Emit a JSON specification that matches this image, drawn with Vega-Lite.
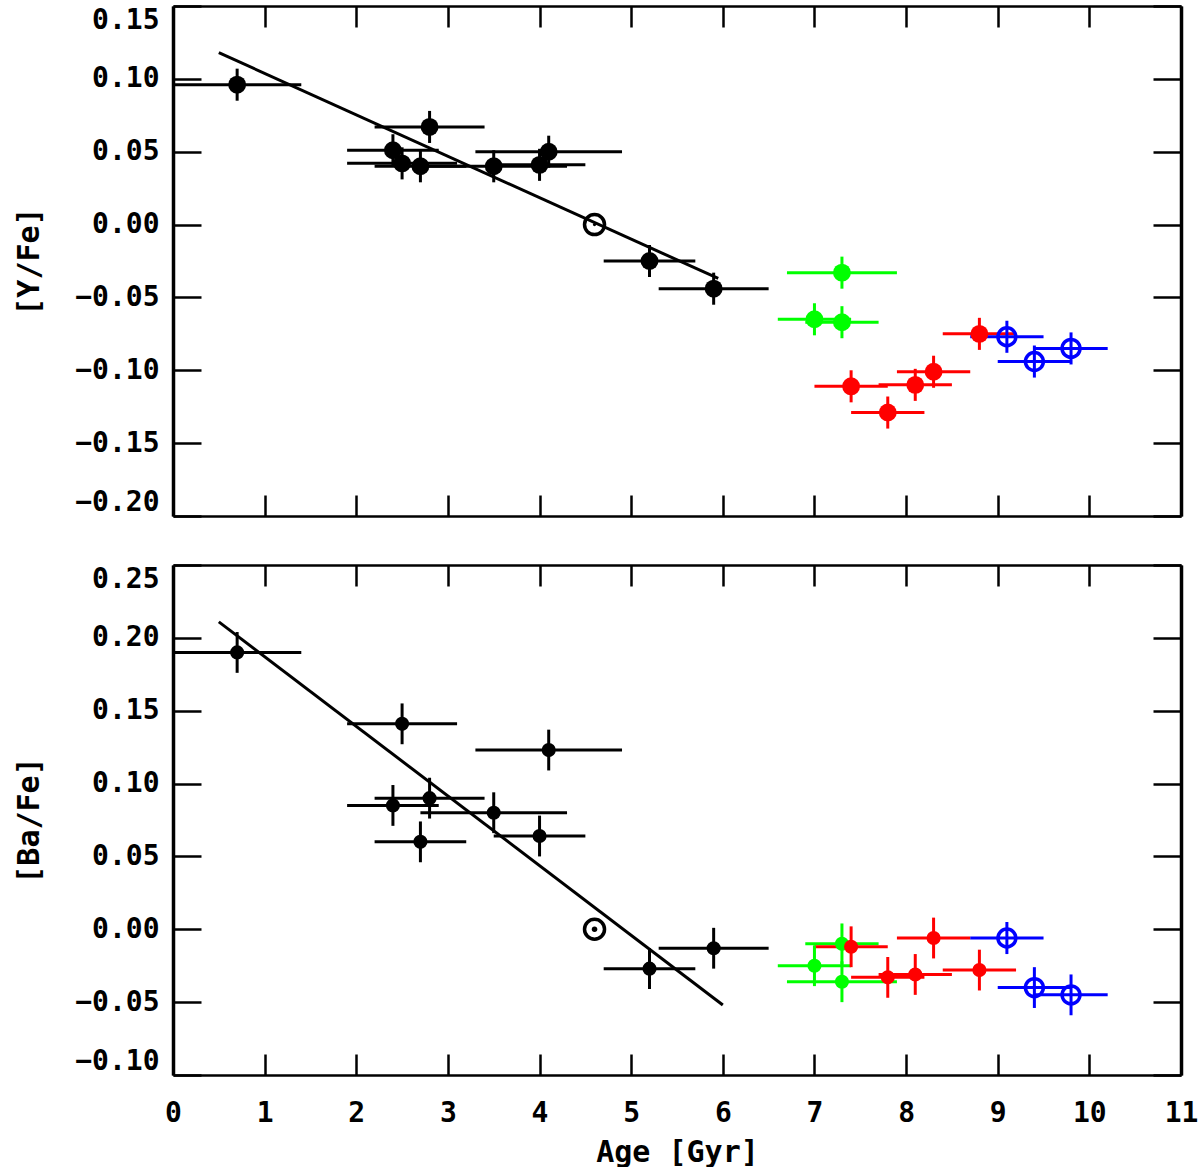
{
  "$schema": "https://vega.github.io/schema/vega-lite/v6.json",
  "background": "white",
  "padding": {"left": 14, "top": 4, "right": 5, "bottom": 0},
  "autosize": {"type": "pad"},
  "config": {
    "view": {"stroke": null},
    "font": "DejaVu Sans Mono",
    "axis": {
      "grid": false,
      "domainColor": "black",
      "tickColor": "black",
      "labelColor": "black",
      "titleColor": "black",
      "labelFont": "DejaVu Sans Mono",
      "labelFontWeight": "bold",
      "labelFontSize": 28,
      "titleFont": "DejaVu Sans Mono",
      "titleFontWeight": "bold",
      "titleFontSize": 30,
      "domainWidth": 3,
      "tickWidth": 2.5
    }
  },
  "datasets": {
    "yfe": [
      {"age": 0.7, "lo": 0.0, "hi": 1.4, "val": 0.096, "vlo": 0.085, "vhi": 0.107, "group": "A"},
      {"age": 2.4, "lo": 1.9, "hi": 2.9, "val": 0.051, "vlo": 0.040, "vhi": 0.062, "group": "A"},
      {"age": 2.5, "lo": 1.9, "hi": 3.1, "val": 0.042, "vlo": 0.031, "vhi": 0.053, "group": "A"},
      {"age": 2.7, "lo": 2.2, "hi": 3.2, "val": 0.040, "vlo": 0.029, "vhi": 0.051, "group": "A"},
      {"age": 2.8, "lo": 2.2, "hi": 3.4, "val": 0.067, "vlo": 0.056, "vhi": 0.078, "group": "A"},
      {"age": 3.5, "lo": 2.7, "hi": 4.3, "val": 0.040, "vlo": 0.029, "vhi": 0.051, "group": "A"},
      {"age": 4.0, "lo": 3.5, "hi": 4.5, "val": 0.041, "vlo": 0.030, "vhi": 0.052, "group": "A"},
      {"age": 4.1, "lo": 3.3, "hi": 4.9, "val": 0.050, "vlo": 0.039, "vhi": 0.061, "group": "A"},
      {"age": 5.2, "lo": 4.7, "hi": 5.7, "val": -0.025, "vlo": -0.036, "vhi": -0.014, "group": "A"},
      {"age": 5.9, "lo": 5.3, "hi": 6.5, "val": -0.044, "vlo": -0.055, "vhi": -0.033, "group": "A"},
      {"age": 7.3, "lo": 6.7, "hi": 7.9, "val": -0.033, "vlo": -0.044, "vhi": -0.022, "group": "B"},
      {"age": 7.0, "lo": 6.6, "hi": 7.4, "val": -0.065, "vlo": -0.076, "vhi": -0.054, "group": "B"},
      {"age": 7.3, "lo": 6.9, "hi": 7.7, "val": -0.067, "vlo": -0.078, "vhi": -0.056, "group": "B"},
      {"age": 7.4, "lo": 7.0, "hi": 7.8, "val": -0.111, "vlo": -0.122, "vhi": -0.100, "group": "C"},
      {"age": 7.8, "lo": 7.4, "hi": 8.2, "val": -0.129, "vlo": -0.140, "vhi": -0.118, "group": "C"},
      {"age": 8.1, "lo": 7.7, "hi": 8.5, "val": -0.110, "vlo": -0.121, "vhi": -0.099, "group": "C"},
      {"age": 8.3, "lo": 7.9, "hi": 8.7, "val": -0.101, "vlo": -0.112, "vhi": -0.090, "group": "C"},
      {"age": 8.8, "lo": 8.4, "hi": 9.2, "val": -0.075, "vlo": -0.086, "vhi": -0.064, "group": "C"},
      {"age": 9.1, "lo": 8.7, "hi": 9.5, "val": -0.077, "vlo": -0.088, "vhi": -0.066, "group": "D"},
      {"age": 9.4, "lo": 9.0, "hi": 9.8, "val": -0.094, "vlo": -0.105, "vhi": -0.083, "group": "D"},
      {"age": 9.8, "lo": 9.4, "hi": 10.2, "val": -0.085, "vlo": -0.096, "vhi": -0.074, "group": "D"}
    ],
    "bafe": [
      {"age": 0.7, "lo": 0.0, "hi": 1.4, "val": 0.190, "vlo": 0.176, "vhi": 0.204, "group": "A"},
      {"age": 2.4, "lo": 1.9, "hi": 2.9, "val": 0.085, "vlo": 0.071, "vhi": 0.099, "group": "A"},
      {"age": 2.5, "lo": 1.9, "hi": 3.1, "val": 0.141, "vlo": 0.127, "vhi": 0.155, "group": "A"},
      {"age": 2.7, "lo": 2.2, "hi": 3.2, "val": 0.060, "vlo": 0.046, "vhi": 0.074, "group": "A"},
      {"age": 2.8, "lo": 2.2, "hi": 3.4, "val": 0.090, "vlo": 0.076, "vhi": 0.104, "group": "A"},
      {"age": 3.5, "lo": 2.7, "hi": 4.3, "val": 0.080, "vlo": 0.066, "vhi": 0.094, "group": "A"},
      {"age": 4.0, "lo": 3.5, "hi": 4.5, "val": 0.064, "vlo": 0.050, "vhi": 0.078, "group": "A"},
      {"age": 4.1, "lo": 3.3, "hi": 4.9, "val": 0.123, "vlo": 0.109, "vhi": 0.137, "group": "A"},
      {"age": 5.2, "lo": 4.7, "hi": 5.7, "val": -0.027, "vlo": -0.041, "vhi": -0.013, "group": "A"},
      {"age": 5.9, "lo": 5.3, "hi": 6.5, "val": -0.013, "vlo": -0.027, "vhi": 0.001, "group": "A"},
      {"age": 7.3, "lo": 6.7, "hi": 7.9, "val": -0.036, "vlo": -0.050, "vhi": -0.022, "group": "B"},
      {"age": 7.0, "lo": 6.6, "hi": 7.4, "val": -0.025, "vlo": -0.039, "vhi": -0.011, "group": "B"},
      {"age": 7.3, "lo": 6.9, "hi": 7.7, "val": -0.010, "vlo": -0.024, "vhi": 0.004, "group": "B"},
      {"age": 7.4, "lo": 7.0, "hi": 7.8, "val": -0.012, "vlo": -0.026, "vhi": 0.002, "group": "C"},
      {"age": 7.8, "lo": 7.4, "hi": 8.2, "val": -0.033, "vlo": -0.047, "vhi": -0.019, "group": "C"},
      {"age": 8.1, "lo": 7.7, "hi": 8.5, "val": -0.031, "vlo": -0.045, "vhi": -0.017, "group": "C"},
      {"age": 8.3, "lo": 7.9, "hi": 8.7, "val": -0.006, "vlo": -0.020, "vhi": 0.008, "group": "C"},
      {"age": 8.8, "lo": 8.4, "hi": 9.2, "val": -0.028, "vlo": -0.042, "vhi": -0.014, "group": "C"},
      {"age": 9.1, "lo": 8.7, "hi": 9.5, "val": -0.006, "vlo": -0.017, "vhi": 0.005, "group": "D"},
      {"age": 9.4, "lo": 9.0, "hi": 9.8, "val": -0.040, "vlo": -0.054, "vhi": -0.026, "group": "D"},
      {"age": 9.8, "lo": 9.4, "hi": 10.2, "val": -0.045, "vlo": -0.059, "vhi": -0.031, "group": "D"}
    ],
    "fitY": [
      {"age": 0.5, "val": 0.118},
      {"age": 5.95, "val": -0.037}
    ],
    "fitBa": [
      {"age": 0.5, "val": 0.211},
      {"age": 6.0, "val": -0.052}
    ],
    "sun": [
      {"age": 4.6, "val": 0.0}
    ]
  },
  "spacing": 45,
  "resolve": {"scale": {"x": "independent", "y": "independent", "color": "independent"}},
  "vconcat": [
    {
      "width": 1008,
      "height": 510,
      "resolve": {"axis": {"x": "independent", "y": "independent"}},
      "layer": [
        {
          "data": {"name": "fitY"},
          "mark": {"type": "line", "color": "black", "strokeWidth": 3},
          "encoding": {
            "x": {"field": "age", "type": "quantitative", "scale": {"domain": [0, 11], "nice": false, "zero": false},
              "axis": {"orient": "top", "labels": false, "labelFlush": false, "tickSize": -21, "values": [0,1,2,3,4,5,6,7,8,9,10,11], "title": null, "domainWidth": 2.5}},
            "y": {"field": "val", "type": "quantitative", "scale": {"domain": [-0.2, 0.15], "nice": false, "zero": false},
              "axis": {"orient": "right", "labels": false, "tickSize": -28, "values": [-0.2,-0.15,-0.1,-0.05,0,0.05,0.1,0.15], "title": null, "domainWidth": 3.5}}
          }
        },
        {
          "data": {"name": "yfe"},
          "mark": {"type": "rule", "strokeWidth": 3},
          "encoding": {
            "x": {"field": "lo", "type": "quantitative",
              "axis": {"orient": "bottom", "labels": false, "labelFlush": false, "tickSize": -21, "values": [0,1,2,3,4,5,6,7,8,9,10,11], "title": null, "domainWidth": 2.5}},
            "x2": {"field": "hi"},
            "y": {"field": "val", "type": "quantitative",
              "axis": {"orient": "left", "title": "[Y/Fe]", "format": ".2f", "values": [-0.2,-0.15,-0.1,-0.05,0,0.05,0.1,0.15], "labelFlush": true, "tickSize": -28, "labelPadding": 42, "titlePadding": 30, "domainWidth": 3.5}},
            "color": {"field": "group", "type": "nominal", "scale": {"domain": ["A","B","C","D"], "range": ["#000000","#00ff00","#ff0000","#0000ff"]}, "legend": null}
          }
        },
        {
          "data": {"name": "yfe"},
          "mark": {"type": "rule", "strokeWidth": 3},
          "encoding": {
            "x": {"field": "age", "type": "quantitative", "axis": null},
            "y": {"field": "vlo", "type": "quantitative", "axis": null},
            "y2": {"field": "vhi"},
            "color": {"field": "group", "type": "nominal", "legend": null}
          }
        },
        {
          "data": {"name": "yfe"},
          "transform": [{"filter": "datum.group != 'D'"}],
          "mark": {"type": "point", "filled": true, "opacity": 1, "size": 320, "shape": "circle"},
          "encoding": {
            "x": {"field": "age", "type": "quantitative", "axis": null},
            "y": {"field": "val", "type": "quantitative", "axis": null},
            "color": {"field": "group", "type": "nominal", "legend": null}
          }
        },
        {
          "data": {"name": "yfe"},
          "transform": [{"filter": "datum.group == 'D'"}],
          "mark": {"type": "point", "filled": false, "opacity": 1, "size": 320, "strokeWidth": 3.5, "shape": "circle"},
          "encoding": {
            "x": {"field": "age", "type": "quantitative", "axis": null},
            "y": {"field": "val", "type": "quantitative", "axis": null},
            "color": {"field": "group", "type": "nominal", "legend": null}
          }
        },
        {
          "data": {"name": "sun"},
          "mark": {"type": "point", "filled": false, "opacity": 1, "size": 400, "strokeWidth": 3.5, "color": "black", "shape": "circle"},
          "encoding": {
            "x": {"field": "age", "type": "quantitative", "axis": null},
            "y": {"field": "val", "type": "quantitative", "axis": null}
          }
        },
        {
          "data": {"name": "sun"},
          "mark": {"type": "point", "filled": true, "opacity": 1, "size": 10, "color": "black", "shape": "circle"},
          "encoding": {
            "x": {"field": "age", "type": "quantitative", "axis": null},
            "y": {"field": "val", "type": "quantitative", "axis": null}
          }
        }
      ]
    },
    {
      "width": 1008,
      "height": 510,
      "resolve": {"axis": {"x": "independent", "y": "independent"}},
      "layer": [
        {
          "data": {"name": "fitBa"},
          "mark": {"type": "line", "color": "black", "strokeWidth": 3},
          "encoding": {
            "x": {"field": "age", "type": "quantitative", "scale": {"domain": [0, 11], "nice": false, "zero": false},
              "axis": {"orient": "top", "labels": false, "labelFlush": false, "tickSize": -21, "values": [0,1,2,3,4,5,6,7,8,9,10,11], "title": null, "domainWidth": 2.5}},
            "y": {"field": "val", "type": "quantitative", "scale": {"domain": [-0.1, 0.25], "nice": false, "zero": false},
              "axis": {"orient": "right", "labels": false, "tickSize": -28, "values": [-0.1,-0.05,0,0.05,0.1,0.15,0.2,0.25], "title": null, "domainWidth": 3.5}}
          }
        },
        {
          "data": {"name": "bafe"},
          "mark": {"type": "rule", "strokeWidth": 3},
          "encoding": {
            "x": {"field": "lo", "type": "quantitative",
              "axis": {"orient": "bottom", "title": "Age [Gyr]", "format": "d", "labelFlush": false, "tickSize": -21, "labelPadding": 45, "titlePadding": 10, "values": [0,1,2,3,4,5,6,7,8,9,10,11], "domainWidth": 2.5}},
            "x2": {"field": "hi"},
            "y": {"field": "val", "type": "quantitative",
              "axis": {"orient": "left", "title": "[Ba/Fe]", "format": ".2f", "values": [-0.1,-0.05,0,0.05,0.1,0.15,0.2,0.25], "labelFlush": true, "tickSize": -28, "labelPadding": 42, "titlePadding": 30, "domainWidth": 3.5}},
            "color": {"field": "group", "type": "nominal", "scale": {"domain": ["A","B","C","D"], "range": ["#000000","#00ff00","#ff0000","#0000ff"]}, "legend": null}
          }
        },
        {
          "data": {"name": "bafe"},
          "mark": {"type": "rule", "strokeWidth": 3},
          "encoding": {
            "x": {"field": "age", "type": "quantitative", "axis": null},
            "y": {"field": "vlo", "type": "quantitative", "axis": null},
            "y2": {"field": "vhi"},
            "color": {"field": "group", "type": "nominal", "legend": null}
          }
        },
        {
          "data": {"name": "bafe"},
          "transform": [{"filter": "datum.group != 'D'"}],
          "mark": {"type": "point", "filled": true, "opacity": 1, "size": 200, "shape": "circle"},
          "encoding": {
            "x": {"field": "age", "type": "quantitative", "axis": null},
            "y": {"field": "val", "type": "quantitative", "axis": null},
            "color": {"field": "group", "type": "nominal", "legend": null}
          }
        },
        {
          "data": {"name": "bafe"},
          "transform": [{"filter": "datum.group == 'D'"}],
          "mark": {"type": "point", "filled": false, "opacity": 1, "size": 320, "strokeWidth": 3.5, "shape": "circle"},
          "encoding": {
            "x": {"field": "age", "type": "quantitative", "axis": null},
            "y": {"field": "val", "type": "quantitative", "axis": null},
            "color": {"field": "group", "type": "nominal", "legend": null}
          }
        },
        {
          "data": {"name": "sun"},
          "mark": {"type": "point", "filled": false, "opacity": 1, "size": 400, "strokeWidth": 3.5, "color": "black", "shape": "circle"},
          "encoding": {
            "x": {"field": "age", "type": "quantitative", "axis": null},
            "y": {"field": "val", "type": "quantitative", "axis": null}
          }
        },
        {
          "data": {"name": "sun"},
          "mark": {"type": "point", "filled": true, "opacity": 1, "size": 30, "color": "black", "shape": "circle"},
          "encoding": {
            "x": {"field": "age", "type": "quantitative", "axis": null},
            "y": {"field": "val", "type": "quantitative", "axis": null}
          }
        }
      ]
    }
  ]
}
